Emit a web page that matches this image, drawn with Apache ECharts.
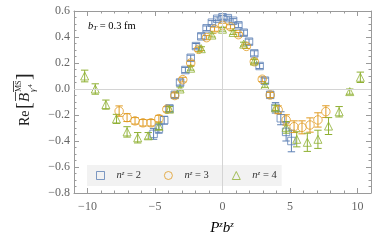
<!DOCTYPE html>
<html><head><meta charset="utf-8">
<script src="https://cdn.jsdelivr.net/npm/echarts@6/dist/echarts.min.js"></script>
<style>html,body{margin:0;padding:0;background:#fff}#c{width:382px;height:243px}</style>
</head><body><div id="c"></div>
<script>
// ---- data ----
const xN2 = [-5.105,-4.712,-4.320,-3.927,-3.534,-3.142,-2.749,-2.356,-1.963,-1.571,-1.178,-0.785,-0.393,0,0.393,0.785,1.178,1.571,1.963,2.356,2.749,3.142,3.534,3.927,4.320,4.712,5.105];
const yN2 = [-0.345,-0.305,-0.24,-0.15,-0.045,0.05,0.146,0.24,0.33,0.405,0.467,0.51,0.54,0.552,0.545,0.525,0.49,0.433,0.364,0.274,0.177,0.064,-0.045,-0.145,-0.225,-0.33,-0.40];
const eN2 = [0.042,0.035,0.03,0.025,0.02,0.02,0.02,0.02,0.02,0.02,0.018,0.016,0.015,0.015,0.015,0.016,0.018,0.02,0.02,0.02,0.02,0.02,0.022,0.04,0.05,0.07,0.083];

const xN3 = [-7.657,-7.069,-6.480,-5.890,-5.301,-4.712,-4.123,-3.534,-2.945,-2.356,-1.767,-1.178,-0.589,0,0.589,1.178,1.767,2.356,2.945,3.534,4.123,4.712,5.301,5.890,6.480,7.069,7.657];
const yN3 = [-0.17,-0.22,-0.245,-0.26,-0.26,-0.228,-0.156,-0.05,0.072,0.20,0.305,0.395,0.46,0.49,0.478,0.418,0.328,0.21,0.075,-0.046,-0.16,-0.238,-0.29,-0.295,-0.277,-0.238,-0.174];
const eN3 = [0.04,0.03,0.025,0.025,0.025,0.025,0.02,0.02,0.018,0.018,0.016,0.016,0.016,0.016,0.016,0.016,0.016,0.018,0.018,0.02,0.03,0.04,0.045,0.05,0.055,0.055,0.045];

const xN4 = [-10.210,-9.425,-8.639,-7.854,-7.069,-6.283,-5.498,-4.712,-3.927,-3.142,-2.356,-1.571,-0.785,0,0.785,1.571,2.356,3.142,3.927,4.712,5.498,6.283,7.069,7.854,8.639,9.425,10.210];
const yN4 = [0.10,0.0,-0.12,-0.23,-0.33,-0.375,-0.36,-0.287,-0.155,0.0,0.16,0.31,0.415,0.46,0.435,0.345,0.215,0.028,-0.145,-0.295,-0.387,-0.41,-0.387,-0.285,-0.175,-0.02,0.09];
const eN4 = [0.045,0.04,0.035,0.035,0.04,0.04,0.025,0.025,0.02,0.015,0.015,0.015,0.015,0.015,0.015,0.015,0.015,0.015,0.02,0.045,0.058,0.07,0.07,0.065,0.04,0.02,0.04];

const seriesNames = ['n^z = 2','n^z = 3','n^z = 4'];
const xTicks = [-10,-5,0,5,10];
const xMinorTicks = [-9,-8,-7,-6,-4,-3,-2,-1,1,2,3,4,6,7,8,9];
const yTicks = [-0.8,-0.6,-0.4,-0.2,0,0.2,0.4,0.6];
const yMinorTicks = [-0.75,-0.7,-0.65,-0.55,-0.5,-0.45,-0.35,-0.3,-0.25,-0.15,-0.1,-0.05,0.05,0.1,0.15,0.25,0.3,0.35,0.45,0.5,0.55];

// ---- style ----
const C = ['#5E81B5','#E19C24','#8FB032'];
const SERIF = "'Liberation Serif', 'DejaVu Serif', serif";
const AX = '#9a9a9a';
const minus = v => String(v).replace('-', '\u2212');
const fmtY = v => minus((Math.round(v*10)/10).toFixed(1));

function zip(xs, ys, es){ return xs.map((x,i)=>[x, ys[i], es[i]]); }

function errRender(color){
  return function(params, api){
    const x = api.value(0), y = api.value(1), e = api.value(2);
    const t = api.coord([x, y+e]), b = api.coord([x, y-e]);
    const w = 3.7, st = {stroke: color, lineWidth: 1, fill: null};
    return {type:'group', children:[
      {type:'line', shape:{x1:t[0], y1:t[1], x2:b[0], y2:b[1]}, style: st},
      {type:'line', shape:{x1:t[0]-w, y1:t[1], x2:t[0]+w, y2:t[1]}, style: st},
      {type:'line', shape:{x1:b[0]-w, y1:b[1], x2:b[0]+w, y2:b[1]}, style: st}
    ]};
  };
}

function xAx(pos, major){
  return {type:'value', min:-11, max:11, position:pos,
    axisLine:{show:major, onZero:false, lineStyle:{color:AX, width:1}},
    axisTick:{show:true, inside:true, length: major?5:2.5, customValues: major?xTicks:xMinorTicks, lineStyle:{color:AX}},
    axisLabel: (major && pos==='bottom') ? {show:true, customValues:xTicks, formatter:v=>minus(v), margin:8, color:'#666', fontFamily:SERIF, fontSize:12} : {show:false},
    splitLine:{show:false}};
}
function yAx(pos, major){
  return {type:'value', min:-0.8, max:0.6, position:pos,
    axisLine:{show:major, onZero:false, lineStyle:{color:AX, width:1}},
    axisTick:{show:true, inside:true, length: major?5:2.5, customValues: major?yTicks:yMinorTicks, lineStyle:{color:AX}},
    axisLabel: (major && pos==='left') ? {show:true, customValues:yTicks, formatter:fmtY, margin:4, color:'#666', fontFamily:SERIF, fontSize:12} : {show:false},
    splitLine:{show:false}};
}

const symbols = ['rect','circle','triangle'];
const sizes = [7.5,8.5,8];
const datas = [zip(xN2,yN2,eN2), zip(xN3,yN3,eN3), zip(xN4,yN4,eN4)];

const series = [{
  type:'line', data:[], z:0, silent:true,
  markLine:{silent:true, symbol:['none','none'], label:{show:false},
    lineStyle:{color:'#d4d4d4', width:1, type:'solid'}, data:[{xAxis:0},{yAxis:0}]}
}];
datas.forEach((d,i)=>{
  series.push({type:'custom', name:seriesNames[i]+' err', data:d, z:2, silent:true,
    encode:{x:0, y:1}, renderItem: errRender(C[i])});
});
datas.forEach((d,i)=>{
  series.push({type:'scatter', name:seriesNames[i], data:d.map(p=>[p[0],p[1]]), z:3,
    symbol:symbols[i], symbolSize:sizes[i],
    itemStyle:{color:'rgba(255,255,255,0)', borderColor:C[i], borderWidth:1}});
});

const rich = {
  i:{fontFamily:SERIF, fontStyle:'italic', fontSize:10.5, color:'#333', padding:[0,0,0,7]},
  s:{fontFamily:SERIF, fontStyle:'italic', fontSize:7, color:'#333', verticalAlign:'top'},
  t:{fontFamily:SERIF, fontSize:10.5, color:'#333'}
};

const chart = echarts.init(document.getElementById('c'), null, {renderer:'canvas'});
chart.setOption({
  animation:false,
  backgroundColor:'#fff',
  grid:{left:74, right:11, top:11, bottom:50, containLabel:false},
  xAxis:[xAx('bottom',true), xAx('bottom',false), xAx('top',true), xAx('top',false)],
  yAxis:[yAx('left',true), yAx('left',false), yAx('right',true), yAx('right',false)],
  legend:{
    left:87, top:165, orient:'horizontal', backgroundColor:'#f2f2f2',
    padding:[5,5,5,9], itemWidth:8, itemHeight:8, itemGap:23,
    data: seriesNames.map((n,i)=>({name:n, icon:symbols[i],
      itemStyle:{color:'rgba(255,255,255,0)', borderColor:C[i], borderWidth:1}})),
    formatter: n => '{i|n}{s|z}{t| = ' + n.slice(-1) + '}',
    textStyle:{rich: rich}
  },
  series: series,
  graphic:[
    {type:'text', left:88, top:21, style:{
      text:'{i|b}{s|T}{t| = 0.3 fm}',
      rich:{i:{fontFamily:SERIF, fontStyle:'italic', fontSize:10.5, color:'#222'},
            s:{fontFamily:SERIF, fontStyle:'italic', fontSize:7, color:'#222', verticalAlign:'bottom'},
            t:{fontFamily:SERIF, fontSize:10.5, color:'#222'}}}},
    {type:'text', x:222, y:228, style:{
      text:'{i|P}{s|z}{i|b}{s|z}', align:'center', verticalAlign:'middle',
      rich:{i:{fontFamily:SERIF, fontStyle:'italic', fontSize:15, color:'#222'},
            s:{fontFamily:SERIF, fontStyle:'italic', fontSize:9, color:'#222', verticalAlign:'top'}}}},
    {type:'group', x:30, y:126, rotation:Math.PI/2, children:[
      {type:'text', x:0, y:-5, style:{text:'Re', font:"14px 'Liberation Serif'", fill:'#222', verticalAlign:'middle'}},
      {type:'text', x:17, y:-5, style:{text:'[', font:"20px 'Liberation Serif'", fill:'#222', verticalAlign:'middle'}},
      {type:'text', x:24, y:-5, style:{text:'B', font:"italic 15px 'Liberation Serif'", fill:'#222', verticalAlign:'middle'}},
      {type:'line', shape:{x1:25, y1:-14.5, x2:34, y2:-14.5}, style:{stroke:'#222', lineWidth:0.8}},
      {type:'text', x:34, y:-11, style:{text:'MS', font:"8px 'Liberation Serif'", fill:'#222', verticalAlign:'middle'}},
      {type:'line', shape:{x1:34, y1:-16.5, x2:45, y2:-16.5}, style:{stroke:'#222', lineWidth:0.8}},
      {type:'text', x:34, y:3, style:{text:'\u03b3', font:"italic 9px 'Liberation Serif'", fill:'#222', verticalAlign:'middle'}},
      {type:'text', x:38.5, y:0, style:{text:'4', font:"6.5px 'Liberation Serif'", fill:'#222', verticalAlign:'middle'}},
      {type:'text', x:46, y:-5, style:{text:']', font:"20px 'Liberation Serif'", fill:'#222', verticalAlign:'middle'}}
    ]}
  ]
});
</script></body></html>
